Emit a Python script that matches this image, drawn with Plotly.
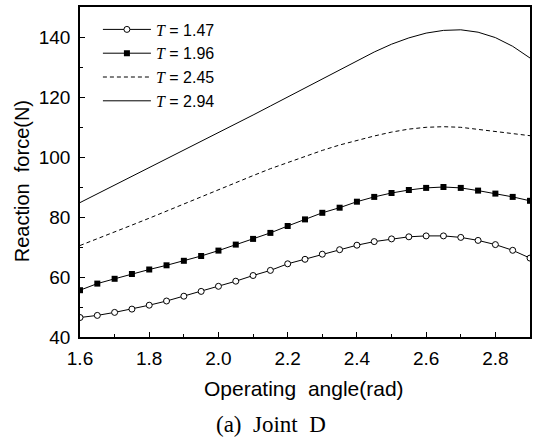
import plotly.graph_objects as go

angle = [1.6, 1.65, 1.7, 1.75, 1.8, 1.85, 1.9, 1.95, 2.0, 2.05, 2.1, 2.15, 2.2, 2.25,
         2.3, 2.35, 2.4, 2.45, 2.5, 2.55, 2.6, 2.65, 2.7, 2.75, 2.8, 2.85, 2.9]

t147 = [46.5, 47.2, 48.2, 49.3, 50.6, 52.0, 53.6, 55.2, 56.9, 58.6, 60.5, 62.2, 64.4, 65.9,
        67.6, 69.1, 70.6, 71.8, 72.7, 73.4, 73.7, 73.7, 73.2, 72.2, 70.8, 68.9, 66.3]
t196 = [55.6, 57.8, 59.4, 61.0, 62.5, 63.9, 65.4, 67.0, 68.8, 70.8, 72.7, 74.7, 77.0, 79.2,
        81.4, 83.1, 85.1, 86.7, 88.0, 89.0, 89.7, 90.0, 89.7, 88.8, 87.8, 86.7, 85.4]
t245 = [70.5, 72.7, 75.0, 77.3, 79.6, 82.0, 84.3, 86.7, 89.1, 91.5, 93.8, 96.1, 98.2, 100.3,
        102.2, 104.0, 105.6, 107.0, 108.3, 109.3, 109.9, 110.1, 109.9, 109.2, 108.5, 107.8, 107.1]
t294 = [84.8, 87.7, 90.6, 93.5, 96.4, 99.3, 102.2, 105.1, 108.1, 111.0, 114.0, 117.0, 120.0, 123.1,
        126.1, 129.2, 132.2, 135.0, 137.6, 139.7, 141.3, 142.2, 142.4, 141.6, 139.8, 136.9, 133.0]

labels = ["1.47", "1.96", "2.45", "2.94"]
x_ticks = [1.6, 1.8, 2.0, 2.2, 2.4, 2.6, 2.8]
y_ticks = [40, 60, 80, 100, 120, 140]


def lab(v):
    return "<span style=\"font-family:'Liberation Serif'\"><i>T</i></span> = " + v


fig = go.Figure()
fig.add_trace(go.Scatter(x=angle, y=t147, mode="lines+markers", name=lab(labels[0]),
                         line=dict(color="black", width=1),
                         marker=dict(symbol="circle", size=6, color="white",
                                     line=dict(color="black", width=1))))
fig.add_trace(go.Scatter(x=angle, y=t196, mode="lines+markers", name=lab(labels[1]),
                         line=dict(color="black", width=1),
                         marker=dict(symbol="square", size=6, color="black",
                                     line=dict(color="black", width=0))))
fig.add_trace(go.Scatter(x=angle, y=t245, mode="lines", name=lab(labels[2]),
                         line=dict(color="black", width=1, dash="4px,3px")))
fig.add_trace(go.Scatter(x=angle, y=t294, mode="lines", name=lab(labels[3]),
                         line=dict(color="black", width=1)))

axis_common = dict(showgrid=False, zeroline=False, showline=True, linecolor="black",
                   linewidth=1.5, mirror=True, ticks="inside", ticklen=5, tickwidth=1,
                   tickcolor="black",
                   tickfont=dict(family="Liberation Sans, Arial", size=19, color="black"))

fig.update_xaxes(range=[1.6, 2.9], tickvals=x_ticks, ticktext=[f"{v:.1f}" for v in x_ticks],
                 ticklabelstandoff=3,
                 minor=dict(dtick=0.1, ticks="inside", ticklen=3, tickcolor="black", tick0=1.6),
                 **axis_common)
fig.update_yaxes(range=[40, 150], tickvals=y_ticks, ticklabelstandoff=4,
                 minor=dict(dtick=10, ticks="inside", ticklen=3, tickcolor="black", tick0=40),
                 **axis_common)

W, H = 535, 438
ML, MR, MT, MB = 80, 3, 7, 101
pw = W - ML - MR
ph = H - MT - MB


def px_x(p):
    return (p - ML) / pw


def px_y(p):
    return (H - MB - p) / ph


fig.update_layout(
    width=W, height=H,
    margin=dict(l=ML, r=MR, t=MT, b=MB),
    paper_bgcolor="white", plot_bgcolor="white",
    showlegend=True,
    legend=dict(x=px_x(98), y=px_y(12.5), xanchor="left", yanchor="top", bgcolor="rgba(0,0,0,0)",
                font=dict(family="Liberation Sans, Arial", size=16, color="black"),
                itemwidth=48, tracegroupgap=0),
    annotations=[
        dict(text="Reaction  force(N)", x=px_x(22), y=px_y(181), xref="paper", yref="paper",
             xanchor="center", yanchor="middle", showarrow=False, textangle=-90,
             font=dict(family="Liberation Sans, Arial", size=20, color="black")),
        dict(text="Operating  angle(rad)", x=px_x(305), y=px_y(389), xref="paper", yref="paper",
             xanchor="center", yanchor="middle", showarrow=False,
             font=dict(family="Liberation Sans, Arial", size=21, color="black")),
        dict(text="(a)  Joint  D", x=px_x(272), y=px_y(424), xref="paper", yref="paper",
             xanchor="center", yanchor="middle", showarrow=False,
             font=dict(family="Liberation Serif, Times New Roman", size=23, color="black")),
    ],
)

fig.write_html("out.html", config={"displayModeBar": False},
               post_script="document.body.style.margin='0';")
